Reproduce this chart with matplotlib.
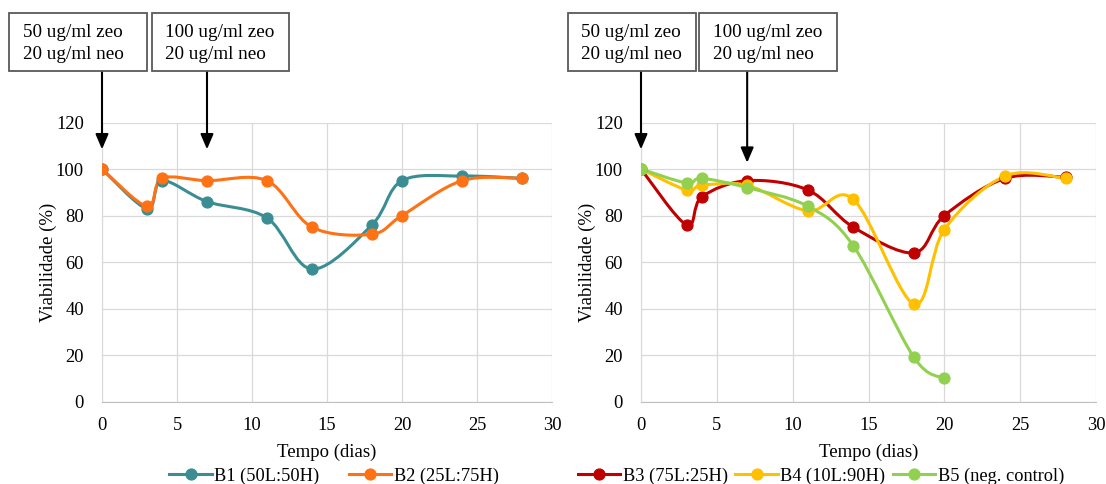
import matplotlib.pyplot as plt
import matplotlib.transforms as mtransforms
import numpy as np
from matplotlib.path import Path
from matplotlib.patches import PathPatch, Rectangle
from matplotlib.lines import Line2D

plt.rcParams['font.family'] = ['Liberation Serif', 'DejaVu Serif']
plt.rcParams['font.size'] = 13

# data
days = [0, 3, 4, 7, 11, 14, 18, 20, 24, 28]
b1 = [100, 83, 95, 86, 79, 57, 76, 95, 97, 96]
b2 = [100, 84, 96, 95, 95, 75, 72, 80, 95, 96]
b3 = [100, 76, 88, 95, 91, 75, 64, 80, 96, 96.5]
b4 = [100, 91, 93, 93, 82, 87, 42, 74, 97, 96]
days_b5 = [0, 3, 4, 7, 11, 14, 18, 20]
b5 = [100, 94, 96, 92, 84, 67, 19, 10]

left_series = [(days, b1, '#3A8E93', 'B1 (50L:50H)'),
               (days, b2, '#FF7115', 'B2 (25L:75H)')]
right_series = [(days, b3, '#C00000', 'B3 (75L:25H)'),
                (days, b4, '#FFC000', 'B4 (10L:90H)'),
                (days_b5, b5, '#92D050', 'B5 (neg. control)')]

box_lines = ['50 ug/ml zeo\n20 ug/ml neo', '100 ug/ml zeo\n20 ug/ml neo']
arrow_days = [0, 7]

W, H = 1106, 484
fig = plt.figure(figsize=(W / 100, H / 100), dpi=100)


def smooth_path(x, y):
    # excel style smoothed line: bezier segments with catmull-rom controls
    pts = np.column_stack([x, y]).astype(float)
    n = len(pts)
    verts = [pts[0]]
    codes = [Path.MOVETO]
    for i in range(n - 1):
        p0 = pts[i - 1] if i > 0 else pts[i]
        p1 = pts[i]
        p2 = pts[i + 1]
        p3 = pts[i + 2] if i + 2 < n else pts[i + 1]
        c1 = p1 + (p2 - p0) / 6.0
        c2 = p2 - (p3 - p1) / 6.0
        verts += [c1, c2, p2]
        codes += [Path.CURVE4] * 3
    return Path(verts, codes)


def make_axes(rect, series):
    ax = fig.add_axes(rect)
    for x, y, c, lab in series:
        ax.add_patch(PathPatch(smooth_path(x, y), facecolor='none', edgecolor=c,
                               lw=2.2, capstyle='round', zorder=3))
        ax.plot(x, y, 'o', color=c, ms=7.8, zorder=4, label=lab)
    ax.set_xlim(0, 30)
    ax.set_ylim(0, 120)
    ax.set_xticks(range(0, 31, 5))
    ax.set_yticks(range(0, 121, 20))
    ax.grid(True, color='#D9D9D9', lw=0.9)
    ax.set_axisbelow(True)
    for s in ['top', 'right']:
        ax.spines[s].set_visible(False)
    ax.spines['left'].set_color('#D9D9D9')
    ax.spines['bottom'].set_color('#BFBFBF')
    ax.tick_params(axis='both', length=0, labelsize=13.3, colors='black')
    ax.tick_params(axis='y', pad=13)
    ax.tick_params(axis='x', pad=11)
    ax.set_xlabel('Tempo (dias)', fontsize=13.5, labelpad=7)
    ax.set_ylabel('Viabilidade (%)', fontsize=13.5, labelpad=-1)
    return ax


ax1 = make_axes([102 / W, 1 - 401.7 / H, 450 / W, 279.2 / H], left_series)
ax2 = make_axes([641 / W, 1 - 401.7 / H, 455 / W, 279.2 / H], right_series)


def add_box(x0, x1, text_x, text):
    fig.patches.append(Rectangle((x0 / W, 1 - 70.7 / H), (x1 - x0) / W, 58 / H,
                                 transform=fig.transFigure, facecolor='white',
                                 edgecolor='#595959', lw=1.3))
    fig.text(text_x / W, 1 - 43.5 / H, text, ha='left', va='center',
             fontsize=13.8, linespacing=1.45)


add_box(9.3, 147, 22.7, box_lines[0])
add_box(151.7, 289.3, 165, box_lines[1])
add_box(568.3, 695.7, 581, box_lines[0])
add_box(699.3, 836.7, 713.3, box_lines[1])


def add_arrow(ax, xd, tip_px):
    tr = mtransforms.blended_transform_factory(ax.transData, fig.transFigure)
    ax.annotate('', xy=(xd, 1 - tip_px / H), xycoords=tr,
                xytext=(xd, 1 - 67 / H), textcoords=tr,
                arrowprops=dict(arrowstyle='-|>,head_length=0.7,head_width=0.3',
                                color='black', lw=1.5, shrinkA=0, shrinkB=0),
                annotation_clip=False)


add_arrow(ax1, arrow_days[0], 149.3)
add_arrow(ax1, arrow_days[1], 149.3)
add_arrow(ax2, arrow_days[0], 149.3)
add_arrow(ax2, arrow_days[1], 162.7)


def add_legend(ax, series, cx, ncol, gap):
    handles = [Line2D([0], [0], color=c, lw=2.2, marker='o', ms=7.8)
               for _, _, c, _ in series]
    labels = [lab for _, _, _, lab in series]
    fig.legend(handles, labels, loc='center', bbox_to_anchor=(cx / W, 1 - 476 / H),
               ncol=ncol, frameon=False, fontsize=13.2, handlelength=2.3,
               handletextpad=0.15, columnspacing=gap, borderaxespad=0)


add_legend(ax1, left_series, 334, 2, 1.6)
add_legend(ax2, right_series, 821, 3, 0.4)

fig.savefig('out.png', dpi=100)
